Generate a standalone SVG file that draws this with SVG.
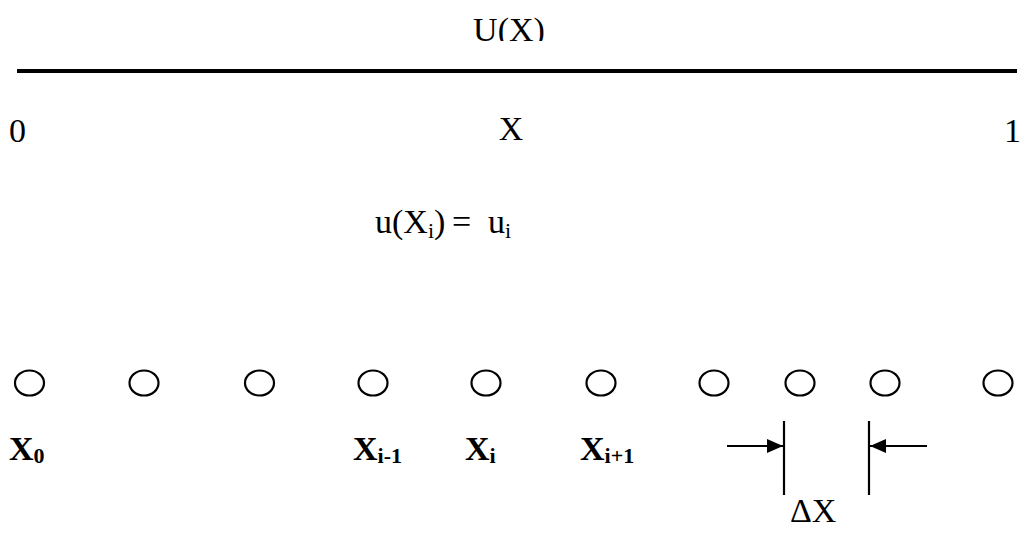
<svg xmlns="http://www.w3.org/2000/svg" width="1022" height="539" viewBox="0 0 1022 539">
<style>
text{font-family:"Liberation Serif","Times New Roman",serif;fill:#000}
.t{font-size:34px}
.b{font-size:34px;font-weight:bold}
.s{font-size:22px}
.sb{font-size:22px;font-weight:bold}
.c{fill:none;stroke:#000;stroke-width:2.2}
.l{stroke:#000;stroke-width:2.2;fill:none}
</style>
<defs>
<marker id="ah" markerWidth="16" markerHeight="14" refX="16" refY="7" orient="auto" markerUnits="userSpaceOnUse">
<path d="M0,0 L16,7 L0,14 Z" fill="#000"/>
</marker>
<clipPath id="topclip"><rect x="0" y="0" width="1022" height="41"/></clipPath>
</defs>
<g id="axis">
<line x1="17" y1="71" x2="1017" y2="71" stroke="#000" stroke-width="4"/>
<text class="t" x="509" y="41" text-anchor="middle" clip-path="url(#topclip)">U(X)</text>
<text class="t" x="9" y="142">0</text>
<text class="t" x="511" y="140" text-anchor="middle">X</text>
<text class="t" x="1004" y="142">1</text>
</g>
<g id="formula">
<text class="t" x="375" y="233">u(X<tspan class="s" dy="5">i</tspan><tspan dy="-5">)</tspan><tspan x="452">=</tspan><tspan x="488">u</tspan><tspan class="s" dy="5">i</tspan></text>
</g>
<g id="nodes">
<ellipse class="c" cx="29.5" cy="383" rx="14.5" ry="12.5"/>
<ellipse class="c" cx="144" cy="383" rx="14.5" ry="12.5"/>
<ellipse class="c" cx="259.5" cy="383" rx="14.5" ry="12.5"/>
<ellipse class="c" cx="373" cy="383" rx="14.5" ry="12.5"/>
<ellipse class="c" cx="486" cy="383" rx="14.5" ry="12.5"/>
<ellipse class="c" cx="601" cy="383" rx="14.5" ry="12.5"/>
<ellipse class="c" cx="714" cy="383" rx="14.5" ry="12.5"/>
<ellipse class="c" cx="800" cy="383" rx="14.5" ry="12.5"/>
<ellipse class="c" cx="885" cy="383" rx="14.5" ry="12.5"/>
<ellipse class="c" cx="998" cy="383" rx="14.5" ry="12.5"/>
</g>
<g id="labels">
<text class="b" x="9" y="460">X<tspan class="s" dy="3">0</tspan></text>
<text class="b" x="353" y="460">X<tspan class="sb" dy="3">i-1</tspan></text>
<text class="b" x="465" y="460">X<tspan class="sb" dy="3">i</tspan></text>
<text class="b" x="580" y="460">X<tspan class="sb" dy="3">i+1</tspan></text>
<text class="t" x="790" y="522">ΔX</text>
</g>
<g id="connectors">
<line class="l" x1="784" y1="421" x2="784" y2="495"/>
<line class="l" x1="869" y1="421" x2="869" y2="495"/>
<line class="l" x1="727" y1="446" x2="783" y2="446" marker-end="url(#ah)"/>
<line class="l" x1="927" y1="446" x2="870" y2="446" marker-end="url(#ah)"/>
</g>
</svg>
